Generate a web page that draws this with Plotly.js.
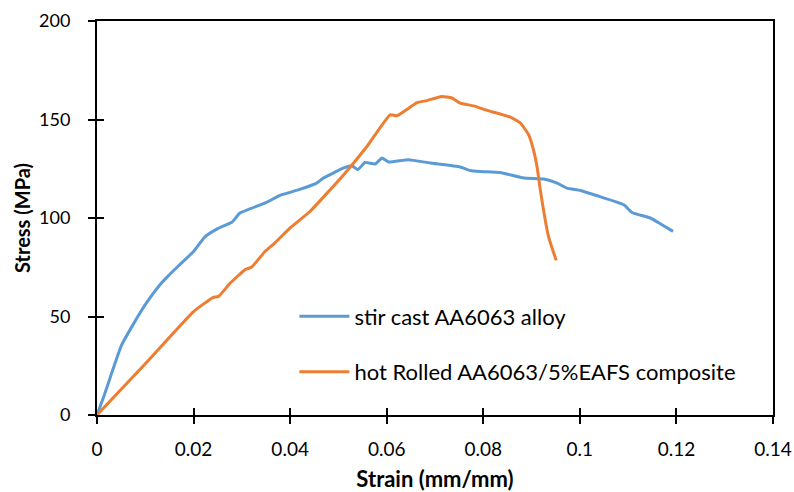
<!DOCTYPE html>
<html>
<head>
<meta charset="utf-8">
<script src="https://cdn.plot.ly/plotly-3.0.1.min.js"></script>
<style>html,body{margin:0;padding:0;background:#fff;}#chart{width:794px;height:492px;}</style>
</head>
<body>
<div id="chart"></div>
<script>
var seriesNames = ["stir cast AA6063 alloy", "hot Rolled AA6063/5%EAFS composite"];

var castStrain = [0, 0.0015, 0.003, 0.005, 0.0075, 0.010, 0.013, 0.0145, 0.017, 0.020, 0.0224, 0.025, 0.028, 0.0296, 0.035, 0.0379, 0.042, 0.0455, 0.0469, 0.0511, 0.0528, 0.0540, 0.0555, 0.0576, 0.0590, 0.0604, 0.0645, 0.0690, 0.0752, 0.0773, 0.0794, 0.0835, 0.0884, 0.0925, 0.0953, 0.0973, 0.1001, 0.1036, 0.1091, 0.1108, 0.1146, 0.1170, 0.1193];
var castStress = [0, 10, 21, 35, 46, 56, 66, 70, 76, 83, 90.5, 94.6, 98, 102.5, 107.8, 111.5, 114.5, 117.7, 120.3, 125.4, 126.5, 124.5, 128.2, 127.4, 130.4, 128.4, 129.6, 127.9, 125.9, 124.1, 123.6, 123.1, 120.3, 119.8, 117.7, 115.2, 114.0, 111.3, 106.7, 102.8, 100.0, 96.6, 93.2];

var rolledStrain = [0, 0.010, 0.020, 0.0240, 0.0252, 0.0276, 0.0307, 0.0320, 0.0348, 0.0369, 0.0400, 0.0441, 0.0511, 0.0559, 0.0607, 0.0621, 0.0663, 0.0683, 0.0714, 0.0735, 0.0752, 0.0780, 0.0808, 0.0856, 0.0877, 0.0894, 0.0904, 0.0912, 0.0918, 0.0935, 0.0951];
var rolledStress = [0, 26, 52.5, 59.6, 60.2, 67, 73.8, 75, 83, 87.5, 95, 103.3, 122, 136.3, 152.4, 151.9, 158.6, 159.6, 161.7, 160.9, 158.3, 156.9, 154.6, 151.2, 148.2, 142.2, 134.6, 125, 114.4, 90.7, 78.5];

var xTickVals = [0, 0.02, 0.04, 0.06, 0.08, 0.1, 0.12, 0.14];
var xTickText = ["0", "0.02", "0.04", "0.06", "0.08", "0.1", "0.12", "0.14"];
var yTickVals = [0, 50, 100, 150, 200];
var yTickText = ["0", "50", "100", "150", "200"];

var fontFam = "Lato, 'Open Sans', sans-serif";

var traces = [
  {x: castStrain, y: castStress, name: seriesNames[0], mode: "lines", type: "scatter",
   line: {color: "#5b9bd5", width: 3, shape: "spline", smoothing: 0.4}, legendgroup: "a"},
  {x: rolledStrain, y: rolledStress, name: seriesNames[1], mode: "lines", type: "scatter",
   line: {color: "#ed7d31", width: 3, shape: "spline", smoothing: 0.4}, legendgroup: "b"},
  {x: [0], y: [0], xaxis: "x2", yaxis: "y2", mode: "markers", marker: {opacity: 0, size: 1},
   showlegend: false, hoverinfo: "skip"}
];

var layout = {
  width: 794, height: 492,
  margin: {l: 97, r: 21, t: 21, b: 76.5},
  paper_bgcolor: "#fff", plot_bgcolor: "#fff",
  font: {family: fontFam, size: 18, color: "#000"},
  showlegend: true,
  legend: {x: 0.292, y: 0.179, xanchor: "left", yanchor: "middle", traceorder: "grouped",
           itemwidth: 50, tracegroupgap: 24, bgcolor: "rgba(0,0,0,0)",
           font: {size: 22, family: fontFam, color: "#000"}},
  xaxis: {range: [0, 0.14], tickvals: xTickVals, ticktext: xTickText, ticks: "outside", ticklen: 7,
          tickwidth: 2, tickcolor: "#000", showline: true, linecolor: "#000", linewidth: 2,
          mirror: true, showgrid: false, zeroline: false,
          tickfont: {size: 19, family: fontFam}, ticklabelstandoff: 9,
          title: {text: "<b>Strain (mm/mm)</b>", font: {size: 22, family: fontFam}, standoff: 14}},
  yaxis: {range: [0, 200], tickvals: yTickVals, ticktext: yTickText, ticks: "outside", ticklen: 7,
          tickwidth: 2, tickcolor: "#000", showline: true, linecolor: "#000", linewidth: 2,
          mirror: true, showgrid: false, zeroline: false,
          tickfont: {size: 18, family: fontFam}, ticklabelstandoff: 14,
          title: {text: "<b>Stress (MPa)</b>", font: {size: 20, family: fontFam}, standoff: 3}},
  xaxis2: {range: [0, 0.14], overlaying: "x", tickvals: xTickVals, ticks: "inside", ticklen: 7,
           tickwidth: 2, tickcolor: "#000", showticklabels: false, showline: false, showgrid: false,
           zeroline: false, side: "bottom"},
  yaxis2: {range: [0, 200], overlaying: "y", tickvals: yTickVals, ticks: "inside", ticklen: 7,
           tickwidth: 2, tickcolor: "#000", showticklabels: false, showline: false, showgrid: false,
           zeroline: false, side: "left"}
};

Plotly.newPlot("chart", traces, layout, {displayModeBar: false, staticPlot: true});
</script>
</body>
</html>
